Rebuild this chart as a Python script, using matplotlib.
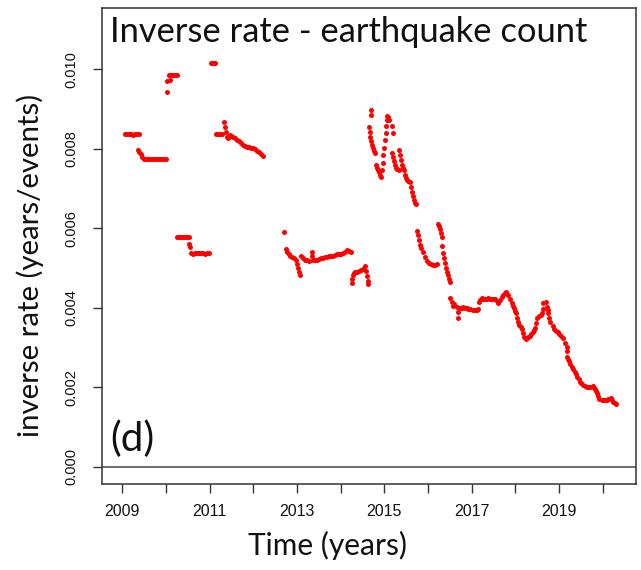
import matplotlib
matplotlib.use("Agg")
import matplotlib.pyplot as plt
import numpy as np

# Inverse earthquake rate (years per event) estimated through time
years = [
    # 2009 plateau
    2009.062, 2009.108, 2009.153, 2009.199, 2009.245, 2009.291, 2009.337, 2009.383,
    2009.353, 2009.382, 2009.417, 2009.451, 2009.497,
    2009.543, 2009.588, 2009.634, 2009.680, 2009.726, 2009.772, 2009.817, 2009.863,
    2009.909, 2009.955, 2010.001,
    # early 2010 high
    2010.017, 2010.030, 2010.058, 2010.092, 2010.104, 2010.150, 2010.195, 2010.241,
    # 2010 low
    2010.253, 2010.298, 2010.344, 2010.390, 2010.436, 2010.481, 2010.527,
    2010.534, 2010.550,
    2010.573, 2010.619, 2010.665, 2010.710, 2010.756, 2010.802, 2010.848, 2010.894,
    2010.939, 2010.985,
    # 2011 peak
    2011.031, 2011.077, 2011.123,
    # 2011-2012
    2011.146, 2011.191, 2011.237, 2011.283, 2011.336, 2011.340,
    2011.375, 2011.397, 2011.427, 2011.455, 2011.489, 2011.535, 2011.580, 2011.626,
    2011.672, 2011.718, 2011.764, 2011.809, 2011.855, 2011.901, 2011.947, 2011.993,
    2012.039, 2012.084, 2012.130, 2012.176, 2012.210,
    # 2012.7-2014.2
    2012.696, 2012.742, 2012.771, 2012.806, 2012.840, 2012.886, 2012.932, 2012.966,
    2012.989, 2013.012, 2013.035, 2013.058,
    2013.092, 2013.138, 2013.183, 2013.229, 2013.275, 2013.332, 2013.337, 2013.367,
    2013.413, 2013.458, 2013.504, 2013.550, 2013.596, 2013.642, 2013.687, 2013.733,
    2013.779, 2013.825, 2013.871, 2013.916, 2013.962, 2014.008, 2014.054, 2014.100,
    2014.145, 2014.191, 2014.226,
    # 2014.25-2014.63
    2014.248, 2014.260, 2014.271, 2014.294, 2014.329, 2014.374, 2014.420, 2014.466,
    2014.512, 2014.558, 2014.569, 2014.592, 2014.615, 2014.626,
    # late 2014 jump
    2014.695, 2014.695, 2014.660, 2014.672, 2014.680, 2014.695, 2014.718, 2014.741,
    2014.764, 2014.786, 2014.809, 2014.832, 2014.855, 2014.878, 2014.901, 2014.924,
    2014.947, 2014.970, 2014.980, 2014.993, 2015.016, 2015.027, 2015.038, 2015.050,
    2015.061, 2015.084, 2015.107, 2015.175, 2015.187,
    2015.175, 2015.198, 2015.221, 2015.244, 2015.267, 2015.290, 2015.325,
    2015.325, 2015.348, 2015.371, 2015.394, 2015.428, 2015.450, 2015.473, 2015.496,
    2015.519, 2015.542, 2015.588, 2015.611, 2015.634, 2015.657, 2015.679, 2015.702,
    2015.725,
    2015.748, 2015.771, 2015.794, 2015.817, 2015.840, 2015.885, 2015.931, 2015.977,
    2016.023, 2016.068, 2016.114, 2016.160, 2016.206,
    2016.229, 2016.252, 2016.274, 2016.297, 2016.309, 2016.320, 2016.343, 2016.366,
    2016.389, 2016.412, 2016.435, 2016.458, 2016.481, 2016.503,
    # 2016.5-2020.3
    2016.504, 2016.543, 2016.566, 2016.596, 2016.657, 2016.694, 2016.680, 2016.733,
    2016.770, 2016.809, 2016.850, 2016.886, 2016.925, 2016.962, 2017.020, 2017.076,
    2017.115, 2017.152, 2017.168, 2017.200, 2017.230, 2017.270, 2017.306, 2017.345,
    2017.381, 2017.420, 2017.459, 2017.497, 2017.535, 2017.575, 2017.610, 2017.649,
    2017.690, 2017.725, 2017.760, 2017.786, 2017.839, 2017.880, 2017.917, 2017.945,
    2017.970, 2017.995, 2018.015, 2018.045, 2018.068, 2018.091, 2018.120, 2018.146,
    2018.175, 2018.199, 2018.244, 2018.270, 2018.297, 2018.325, 2018.352, 2018.398,
    2018.425, 2018.451, 2018.470, 2018.490, 2018.549, 2018.580, 2018.604, 2018.622,
    2018.640, 2018.695, 2018.718, 2018.737, 2018.755, 2018.775, 2018.794, 2018.856,
    2018.895, 2018.931, 2018.970, 2019.007, 2019.045, 2019.085, 2019.137, 2019.176,
    2019.183, 2019.190, 2019.213, 2019.236, 2019.262, 2019.291, 2019.330, 2019.366,
    2019.393, 2019.419, 2019.450, 2019.481, 2019.512, 2019.543, 2019.590, 2019.634,
    2019.670, 2019.710, 2019.772, 2019.800, 2019.824, 2019.850, 2019.877, 2019.900,
    2019.923, 2019.978, 2020.015, 2020.053, 2020.090, 2020.129, 2020.184, 2020.215,
    2020.243, 2020.275, 2020.305,
]

inv_rate = [
    0.00836, 0.00837, 0.00836, 0.00836, 0.00835, 0.00836, 0.00836, 0.00836,
    0.00798, 0.00793, 0.00786, 0.00780, 0.00775,
    0.00773, 0.00773, 0.00774, 0.00773, 0.00773, 0.00773, 0.00774, 0.00773,
    0.00773, 0.00773, 0.00774,
    0.00943, 0.00971, 0.00986, 0.00974, 0.00986, 0.00986, 0.00985, 0.00986,
    0.00579, 0.00579, 0.00579, 0.00579, 0.00579, 0.00579, 0.00579,
    0.00560, 0.00552,
    0.00537, 0.00536, 0.00537, 0.00537, 0.00538, 0.00537, 0.00537, 0.00536,
    0.00537, 0.00537,
    0.01015, 0.01015, 0.01015,
    0.00836, 0.00836, 0.00836, 0.00836, 0.00868, 0.00854,
    0.00842, 0.00829, 0.00826, 0.00834, 0.00833, 0.00829, 0.00827, 0.00822,
    0.00819, 0.00815, 0.00810, 0.00807, 0.00805, 0.00804, 0.00802, 0.00802,
    0.00799, 0.00795, 0.00791, 0.00786, 0.00781,
    0.00590, 0.00549, 0.00541, 0.00535, 0.00531, 0.00528, 0.00525, 0.00520,
    0.00510, 0.00500, 0.00491, 0.00482,
    0.00529, 0.00525, 0.00521, 0.00519, 0.00518, 0.00539, 0.00530, 0.00521,
    0.00520, 0.00521, 0.00523, 0.00524, 0.00525, 0.00528, 0.00528, 0.00529,
    0.00530, 0.00531, 0.00533, 0.00534, 0.00535, 0.00536, 0.00538, 0.00541,
    0.00544, 0.00543, 0.00540,
    0.00461, 0.00472, 0.00482, 0.00487, 0.00490, 0.00491, 0.00492, 0.00495,
    0.00497, 0.00505, 0.00492, 0.00480, 0.00467, 0.00460,
    0.00897, 0.00884, 0.00854, 0.00842, 0.00829, 0.00819, 0.00809, 0.00802,
    0.00794, 0.00789, 0.00759, 0.00751, 0.00746, 0.00741, 0.00734, 0.00729,
    0.00746, 0.00764, 0.00784, 0.00802, 0.00822, 0.00839, 0.00857, 0.00872,
    0.00882, 0.00879, 0.00872, 0.00857, 0.00839,
    0.00789, 0.00779, 0.00769, 0.00759, 0.00751, 0.00749, 0.00746,
    0.00797, 0.00784, 0.00771, 0.00759, 0.00751, 0.00746, 0.00734, 0.00726,
    0.00721, 0.00719, 0.00716, 0.00704, 0.00691, 0.00681, 0.00671, 0.00663,
    0.00661,
    0.00593, 0.00583, 0.00570, 0.00558, 0.00550, 0.00540, 0.00528, 0.00518,
    0.00513, 0.00510, 0.00508, 0.00508, 0.00510,
    0.00611, 0.00606, 0.00598, 0.00588, 0.00578, 0.00555, 0.00538, 0.00525,
    0.00513, 0.00500, 0.00490, 0.00482, 0.00472, 0.00465,
    0.00424, 0.00415, 0.00405, 0.00410, 0.00403, 0.00390, 0.00374, 0.00399,
    0.00400, 0.00401, 0.00400, 0.00399, 0.00397, 0.00396, 0.00395, 0.00394,
    0.00395, 0.00396, 0.00415, 0.00420, 0.00424, 0.00423, 0.00422, 0.00423,
    0.00424, 0.00423, 0.00422, 0.00421, 0.00421, 0.00417, 0.00413, 0.00420,
    0.00426, 0.00432, 0.00437, 0.00440, 0.00432, 0.00421, 0.00411, 0.00405,
    0.00399, 0.00392, 0.00386, 0.00374, 0.00365, 0.00357, 0.00351, 0.00346,
    0.00336, 0.00327, 0.00321, 0.00324, 0.00327, 0.00330, 0.00334, 0.00340,
    0.00344, 0.00348, 0.00362, 0.00374, 0.00378, 0.00382, 0.00386, 0.00398,
    0.00411, 0.00415, 0.00403, 0.00395, 0.00386, 0.00375, 0.00365, 0.00353,
    0.00347, 0.00342, 0.00338, 0.00334, 0.00328, 0.00323, 0.00311, 0.00302,
    0.00290, 0.00277, 0.00271, 0.00265, 0.00258, 0.00252, 0.00245, 0.00239,
    0.00233, 0.00227, 0.00220, 0.00214, 0.00210, 0.00206, 0.00202, 0.00200,
    0.00200, 0.00200, 0.00204, 0.00199, 0.00195, 0.00190, 0.00185, 0.00178,
    0.00170, 0.00167, 0.00168, 0.00168, 0.00169, 0.00170, 0.00173, 0.00169,
    0.00164, 0.00161, 0.00158,
]

tick_years = list(range(2009, 2021))
label_years = [2009, 2011, 2013, 2015, 2017, 2019]
y_ticks = [0.000, 0.002, 0.004, 0.006, 0.008, 0.010]

title_text = "Inverse rate - earthquake count"
panel_tag = "(d)"
x_title = "Time (years)"
y_title = "inverse rate (years/events)"

label_font = ["Lato", "DejaVu Sans"]
tick_font = ["Liberation Sans", "DejaVu Sans"]
axis_grey = "#333333"

fig = plt.figure(figsize=(6.41, 5.70), dpi=100)
ax = fig.add_axes([0.1587, 0.1509, 0.8335, 0.8351])

ax.plot(years, inv_rate, linestyle="none", marker="o", markersize=3.6,
        markeredgewidth=0, color="#ff0000", zorder=3)

ax.axhline(0.0, color="#444444", linewidth=1.1, zorder=2)

ax.set_xlim(2008.528, 2020.763)
ax.set_ylim(-0.000433, 0.01154)

ax.set_xticks(tick_years)
ax.set_xticklabels([str(y) if y in label_years else "" for y in tick_years],
                   fontfamily=tick_font, fontsize=11.5)
ax.set_yticks(y_ticks)
ax.set_yticklabels([f"{v:.3f}" for v in y_ticks], rotation=90, va="center",
                   fontfamily=tick_font, fontsize=10.5)
ax.tick_params(axis="both", direction="out", length=6.5, width=1.0,
               color=axis_grey, labelcolor="#111111")
ax.tick_params(axis="x", pad=8)
ax.tick_params(axis="y", pad=10)

for side in ax.spines.values():
    side.set_color(axis_grey)
    side.set_linewidth(1.1)

ax.text(0.0155, 0.9286, title_text, transform=ax.transAxes, ha="left",
        va="baseline", fontsize=24.8, fontfamily=label_font, color="#111111")
ax.text(0.0155, 0.069, panel_tag, transform=ax.transAxes, ha="left",
        va="baseline", fontsize=29, fontfamily=label_font, color="#111111")

fig.text(328 / 641, 1 - 545 / 570, x_title, ha="center", va="center",
         fontsize=21.5, fontfamily=label_font, color="#111111")
fig.text(30 / 641, 1 - 265 / 570, y_title, ha="center", va="center",
         rotation=90, fontsize=21.2, fontfamily=label_font, color="#111111")

fig.savefig("out.png", dpi=100, facecolor="white")
